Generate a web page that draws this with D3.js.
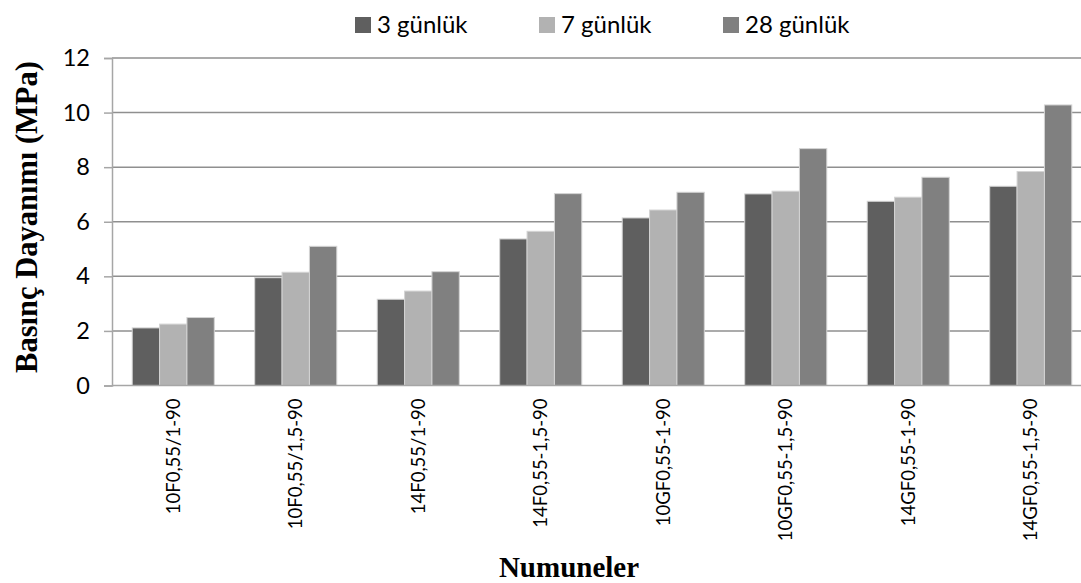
<!DOCTYPE html>
<html>
<head>
<meta charset="utf-8">
<script src="https://cdn.jsdelivr.net/npm/d3@7"></script>
<style>
  html, body { margin: 0; padding: 0; background: #fff; }
  svg { display: block; }
</style>
</head>
<body>
<svg id="chart" width="1081" height="583"></svg>
<script>
const categories = ["10F0,55/1-90", "10F0,55/1,5-90", "14F0,55/1-90", "14F0,55-1,5-90",
                    "10GF0,55-1-90", "10GF0,55-1,5-90", "14GF0,55-1-90", "14GF0,55-1,5-90"];
const seriesNames = ["3 günlük", "7 günlük", "28 günlük"];
const values3 = [2.11, 3.95, 3.16, 5.37, 6.14, 7.02, 6.75, 7.30];
const values7 = [2.25, 4.15, 3.46, 5.65, 6.43, 7.12, 6.90, 7.84];
const values28 = [2.49, 5.10, 4.17, 7.03, 7.08, 8.68, 7.63, 10.28];
const yTicks = [0, 2, 4, 6, 8, 10, 12];
const colors = ["#5f5f5f", "#b2b2b2", "#808080"];
const yTitle = "Basınç Dayanımı (MPa)";
const xTitle = "Numuneler";

const series = [values3, values7, values28];
const svg = d3.select("#chart");
const sansFont = "Lato, 'Open Sans', sans-serif";
const serifFont = "'Liberation Serif', 'DejaVu Serif', serif";

const plotLeft = 112, plotRight = 1092, plotTop = 58, plotBottom = 385.5;

const x0 = d3.scaleBand().domain(categories).range([plotLeft, plotRight]).paddingInner(0.33).paddingOuter(0.165);
const x1 = d3.scaleBand().domain(seriesNames).range([0, x0.bandwidth()]);
const y = d3.scaleLinear().domain([0, 12]).range([plotBottom, plotTop]);

// gridlines
svg.append("g").selectAll("line").data(yTicks.filter(d => d > 0)).join("line")
  .attr("x1", plotLeft).attr("x2", 1081)
  .attr("y1", d => y(d)).attr("y2", d => y(d))
  .attr("stroke", "#8f8f8f").attr("stroke-width", 1.5);

// bars
const groups = svg.append("g").selectAll("g").data(categories).join("g")
  .attr("transform", c => `translate(${x0(c)},0)`);
groups.selectAll("rect")
  .data((c, i) => seriesNames.map((s, j) => ({ s, v: series[j][i], j })))
  .join("rect")
  .attr("x", d => x1(d.s))
  .attr("width", x1.bandwidth())
  .attr("y", d => y(d.v))
  .attr("height", d => y(0) - y(d.v))
  .attr("fill", d => colors[d.j])
  .attr("stroke", "#d4d4d4").attr("stroke-width", 1);

// y axis
const yAxis = d3.axisLeft(y).tickValues(yTicks).tickSize(8).tickPadding(14).tickFormat(d3.format("d"));
const yg = svg.append("g").attr("transform", `translate(${plotLeft},0)`).call(yAxis);
yg.select(".domain").attr("stroke", "#a6a6a6").attr("stroke-width", 1.5);
yg.selectAll(".tick line").attr("stroke", "#a6a6a6").attr("stroke-width", 1.5);
yg.selectAll(".tick text").attr("font-family", sansFont).attr("font-size", 23.5).attr("fill", "#000");

// x axis
const xAxis = d3.axisBottom(x0).tickSize(0).tickPadding(0);
const xg = svg.append("g").attr("transform", `translate(0,${plotBottom})`).call(xAxis);
xg.select(".domain").attr("stroke", "#a6a6a6").attr("stroke-width", 1.5)
  .attr("d", `M${plotLeft},0H1081`);
xg.selectAll(".tick text")
  .attr("font-family", sansFont).attr("font-size", 18.5).attr("fill", "#000")
  .attr("text-anchor", "end")
  .attr("transform", "translate(0,13) rotate(-90)")
  .attr("x", 0).attr("y", 0).attr("dy", "0.35em");

// axis titles
svg.append("text")
  .attr("transform", "translate(37,217) rotate(-90)")
  .attr("text-anchor", "middle")
  .attr("font-family", serifFont).attr("font-weight", "bold").attr("font-size", 30.5)
  .attr("fill", "#000").text(yTitle);
svg.append("text")
  .attr("x", 569).attr("y", 577)
  .attr("text-anchor", "middle")
  .attr("font-family", serifFont).attr("font-weight", "bold").attr("font-size", 29)
  .attr("fill", "#000").text(xTitle);

// legend
const legend = svg.append("g").selectAll("g").data(seriesNames).join("g")
  .attr("transform", (d, i) => `translate(${355 + i * 184},17)`);
legend.append("rect").attr("width", 16).attr("height", 16)
  .attr("fill", (d, i) => colors[i]);
legend.append("text").attr("x", 22).attr("y", 8).attr("dy", "0.35em")
  .attr("font-family", sansFont).attr("font-size", 24).attr("fill", "#000")
  .text(d => d);
</script>
</body>
</html>
